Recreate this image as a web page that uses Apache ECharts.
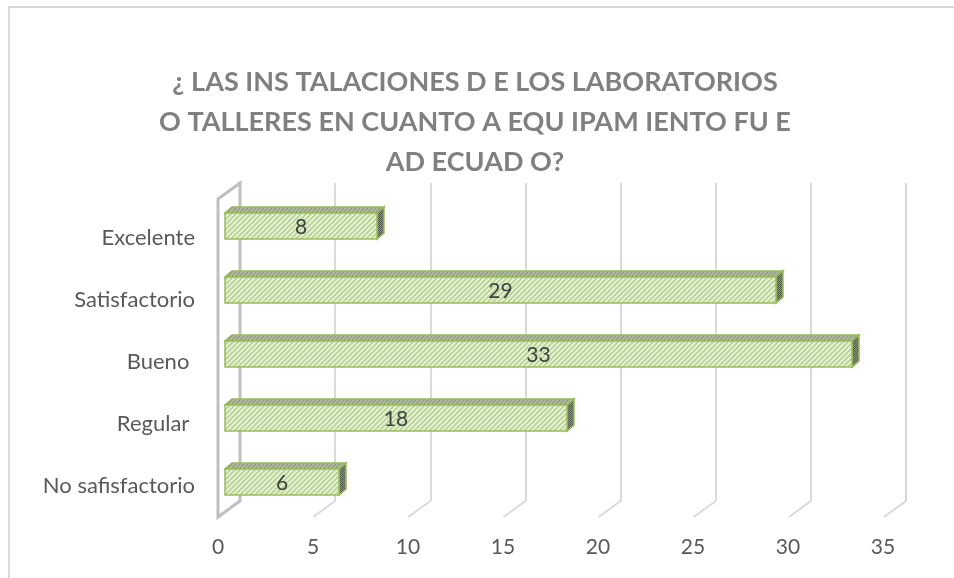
<!DOCTYPE html>
<html>
<head>
<meta charset="utf-8">
<script src="https://cdn.jsdelivr.net/npm/echarts@6/dist/echarts.min.js"></script>
<style>
  html, body { margin: 0; padding: 0; background: #fff; }
  #chart { width: 954px; height: 578px; }
</style>
</head>
<body>
<div id="chart"></div>
<script>
// datos
var categorias = ['Excelente', 'Satisfactorio', 'Bueno ', 'Regular ', 'No safisfactorio'];
var valores = [8, 29, 33, 18, 6];
var ticks = [0, 5, 10, 15, 20, 25, 30, 35];
var titulo = '¿ LAS INS TALACIONES D E LOS LABORATORIOS\nO TALLERES EN CUANTO A EQU IPAM IENTO FU E\nAD ECUAD O?';

var FONT = 'Lato, "Open Sans", sans-serif';

// rellenos rayados tipo Excel
function rayado(bg, fg, size, lw) {
    var c = document.createElement('canvas');
    c.width = c.height = size;
    var ctx = c.getContext('2d');
    ctx.fillStyle = bg;
    ctx.fillRect(0, 0, size, size);
    ctx.strokeStyle = fg;
    ctx.lineWidth = lw;
    ctx.beginPath();
    ctx.moveTo(0, size); ctx.lineTo(size, 0);
    ctx.moveTo(-2, 2); ctx.lineTo(2, -2);
    ctx.moveTo(size - 2, size + 2); ctx.lineTo(size + 2, size - 2);
    ctx.stroke();
    return { image: c, repeat: 'repeat' };
}
function punteado(a, b) {
    var c = document.createElement('canvas');
    c.width = c.height = 2;
    var ctx = c.getContext('2d');
    ctx.fillStyle = a; ctx.fillRect(0, 0, 2, 2);
    ctx.fillStyle = b; ctx.fillRect(0, 0, 1, 1); ctx.fillRect(1, 1, 1, 1);
    return { image: c, repeat: 'repeat' };
}
var frente = rayado('#e8f2dc', '#b6d38f', 5, 1.7);
var arriba = rayado('#b7c0aa', '#8e9a80', 4, 1.4);
var lado = punteado('#8a9484', '#4f5a4b');

var DX = 7, DY = -6;      // profundidad de la barra
var WX = -22, WY = 16;    // profundidad del piso / pared

var chart = echarts.init(document.getElementById('chart'));
chart.setOption({
    animation: false,
    title: {
        text: titulo,
        left: 470,
        top: 57,
        textAlign: 'center',
        textStyle: { fontFamily: FONT, fontWeight: 'bold', fontSize: 27, color: '#808080', lineHeight: 40 }
    },
    graphic: [{
        type: 'rect',
        shape: { x: 9, y: 7, width: 1000, height: 600 },
        style: { fill: 'none', stroke: '#d9d9d9', lineWidth: 2 },
        silent: true
    }],
    grid: [
        { left: 240, right: 48, top: 183, bottom: 77 },  // pared del fondo
        { left: 218, right: 71, top: 207, bottom: 61 },  // etiquetas
        { left: 225, right: 64, top: 194, bottom: 64 }   // barras
    ],
    xAxis: [
        { gridIndex: 0, type: 'value', min: 0, max: 35, interval: 5,
          axisLine: { show: false }, axisTick: { show: false }, axisLabel: { show: false },
          splitLine: { show: true, lineStyle: { color: '#d9d9d9', width: 2 } } },
        { gridIndex: 1, type: 'value', min: 0, max: 35, interval: 5,
          axisLine: { show: false }, axisTick: { show: false }, splitLine: { show: false },
          axisLabel: { margin: 20, color: '#595959', fontSize: 21, fontFamily: FONT } },
        { gridIndex: 2, type: 'value', min: 0, max: 35, show: false }
    ],
    yAxis: [
        { gridIndex: 0, type: 'value', min: 0, max: 1, show: false },
        { gridIndex: 1, type: 'category', data: categorias, inverse: true,
          axisLine: { show: false }, axisTick: { show: false },
          axisLabel: { margin: 23, color: '#595959', fontSize: 22, fontFamily: FONT } },
        { gridIndex: 2, type: 'category', data: categorias, inverse: true, show: false }
    ],
    series: [
        {
            // piso y pared
            type: 'custom',
            xAxisIndex: 0, yAxisIndex: 0,
            silent: true,
            data: ticks.map(function (t) { return [t]; }),
            renderItem: function (params, api) {
                var v = api.value(0);
                var b = api.coord([v, 0]);
                if (v === 0) {
                    var t = api.coord([0, 1]);
                    return {
                        type: 'polygon',
                        shape: { points: [t, [t[0] + WX, t[1] + WY], [b[0] + WX, b[1] + WY], b] },
                        style: { fill: 'none', stroke: '#bfbfbf', lineWidth: 3 }
                    };
                }
                return {
                    type: 'line',
                    shape: { x1: b[0], y1: b[1], x2: b[0] + WX, y2: b[1] + WY },
                    style: { stroke: '#d9d9d9', lineWidth: 2 }
                };
            }
        },
        {
            type: 'custom',
            xAxisIndex: 2, yAxisIndex: 2,
            data: valores.map(function (v, i) { return [v, i]; }),
            encode: { x: 0, y: 1 },
            renderItem: function (params, api) {
                var v = api.value(0);
                var p0 = api.coord([0, api.value(1)]);
                var p1 = api.coord([v, api.value(1)]);
                var h = api.size([0, 1])[1] * 0.41;
                var x0 = p0[0], x1 = p1[0], yt = p0[1] - h / 2, yb = p0[1] + h / 2;
                var borde = { stroke: '#9bbb59', lineWidth: 1.5 };
                return {
                    type: 'group',
                    children: [
                        { type: 'polygon',
                          shape: { points: [[x0, yt], [x0 + DX, yt + DY], [x1 + DX, yt + DY], [x1, yt]] },
                          style: Object.assign({ fill: arriba }, borde) },
                        { type: 'polygon',
                          shape: { points: [[x1, yt], [x1 + DX, yt + DY], [x1 + DX, yb + DY], [x1, yb]] },
                          style: Object.assign({ fill: lado }, borde) },
                        { type: 'rect',
                          shape: { x: x0, y: yt, width: x1 - x0, height: h },
                          style: Object.assign({ fill: frente }, borde) },
                        { type: 'text',
                          style: { text: String(v), x: (x0 + x1) / 2, y: p0[1] + 1, align: 'center', verticalAlign: 'middle',
                                   fill: '#404040', fontSize: 21, fontFamily: FONT } }
                    ]
                };
            }
        }
    ]
});
</script>
</body>
</html>
